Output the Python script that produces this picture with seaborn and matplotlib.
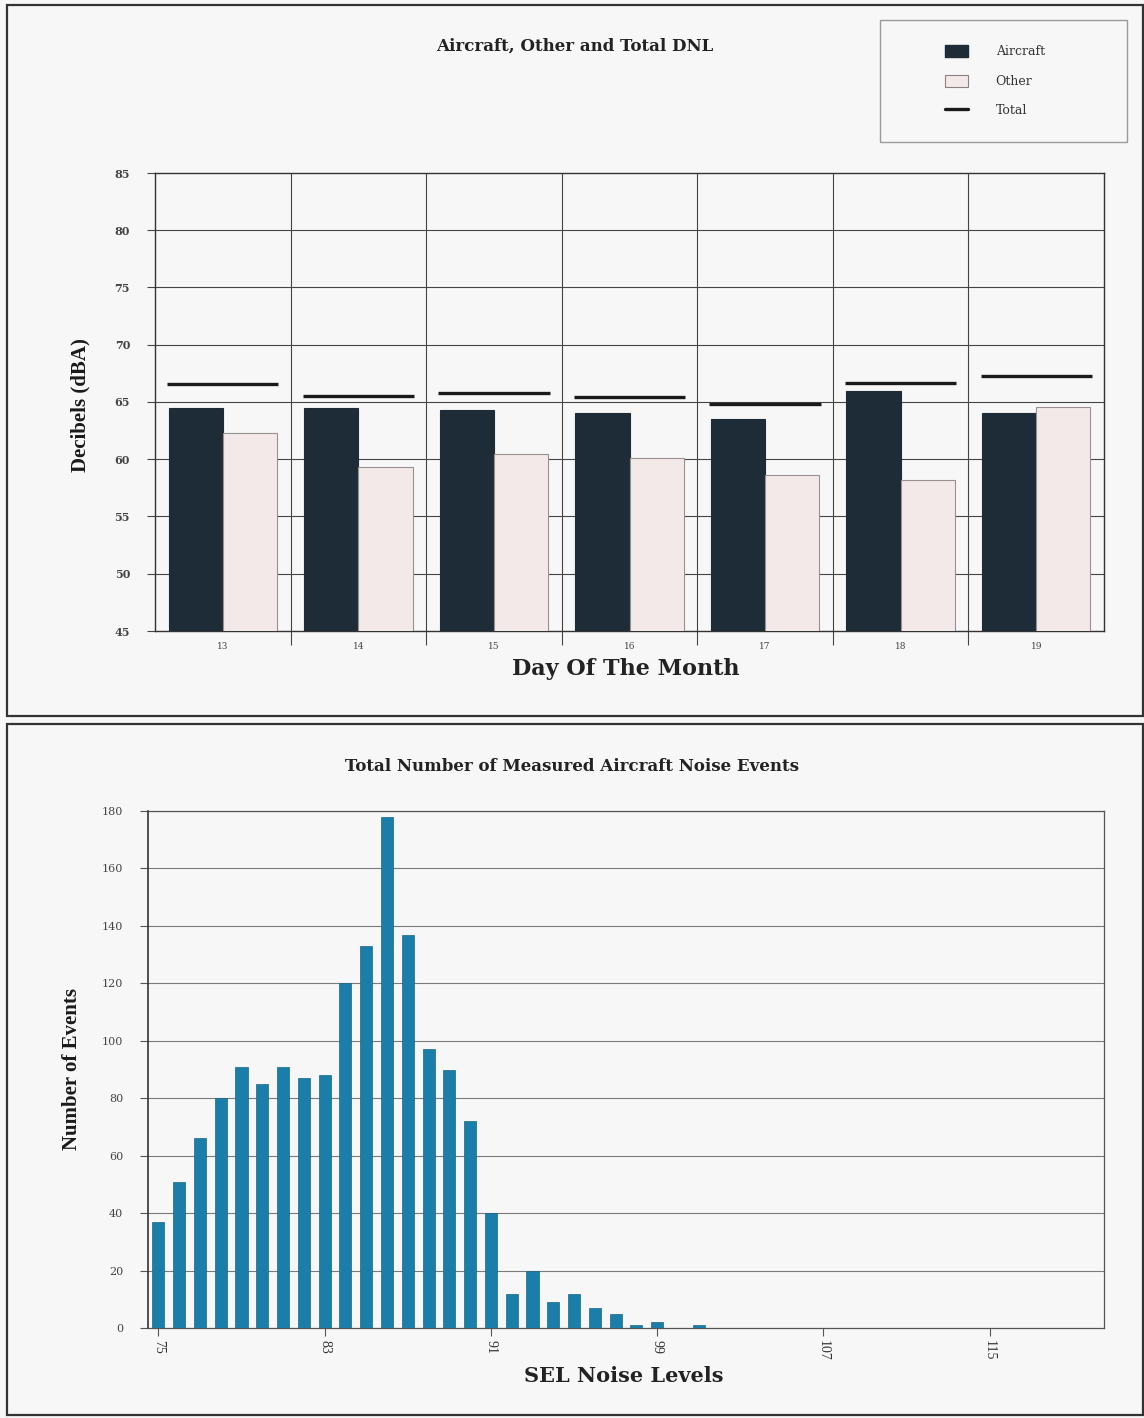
import numpy as np
import pandas as pd
import matplotlib
matplotlib.use("Agg")
import matplotlib.pyplot as plt
from matplotlib.patches import Rectangle, Patch
from matplotlib.lines import Line2D
import seaborn as sns

# ---- daily DNL values (dBA) ----
days = ["13", "14", "15", "16", "17", "18", "19"]
aircraft_dnl = [64.5, 64.5, 64.3, 64.0, 63.5, 66.0, 64.0]
other_dnl = [62.3, 59.3, 60.5, 60.1, 58.6, 58.2, 64.6]
total_dnl = [66.6, 65.5, 65.8, 65.4, 64.8, 66.7, 67.3]
series_names = ["Aircraft", "Other"]

# ---- aircraft noise event counts per SEL level ----
sel_levels = list(range(75, 121))
event_counts = [37, 51, 66, 80, 91, 85, 91, 87, 88, 120,
                133, 178, 137, 97, 90, 72, 40, 12, 20, 9,
                12, 7, 5, 1, 2, 0, 1, 0, 0, 0,
                0, 0, 0, 0, 0, 0, 0, 0, 0, 0,
                0, 0, 0, 0, 0, 0]
sel_tick_values = [75, 83, 91, 99, 107, 115]

W, H = 1144, 1418
BG = "#f7f7f7"
DARK = "#1e2c37"
LIGHT = "#f4e9e9"
BLUE = "#1b7ea8"
SERIF = ["DejaVu Serif"]
TIMES = ["Liberation Serif"]

sns.set_theme(style="white")
plt.rcParams["font.family"] = ["DejaVu Serif", "DejaVu Sans"]

fig = plt.figure(figsize=(W / 100, H / 100), dpi=100, facecolor=BG)


def fx(px):
    return px / W


def fy(py):
    return 1 - py / H


# panel frames
fig.patches.append(Rectangle((fx(7), fy(716)), fx(1136), (716 - 5) / H,
                             transform=fig.transFigure, fill=False,
                             edgecolor="#333333", linewidth=1.6, zorder=0))
fig.patches.append(Rectangle((fx(7), fy(1415)), fx(1136), (1415 - 724) / H,
                             transform=fig.transFigure, fill=False,
                             edgecolor="#333333", linewidth=1.6, zorder=0))

# ================= top: Aircraft / Other / Total DNL =================
ax1 = fig.add_axes([fx(155), fy(631), fx(1104 - 155), (631 - 173) / H])
ax1.set_facecolor(BG)

df = pd.DataFrame({
    "day": days * 2,
    "series": [series_names[0]] * len(days) + [series_names[1]] * len(days),
    "dnl": aircraft_dnl + other_dnl,
})
sns.barplot(data=df, x="day", y="dnl", hue="series", order=days,
            hue_order=series_names, palette=[DARK, LIGHT], width=0.8,
            saturation=1, edgecolor="#9a9090", linewidth=0.8,
            legend=False, ax=ax1, zorder=3)
for bar in ax1.containers[0]:
    bar.set_edgecolor(DARK)

xpos = np.arange(len(days))
ax1.hlines(total_dnl, xpos - 0.41, xpos + 0.41, colors="#1a1a1a",
           linewidth=2.4, zorder=4)

ax1.set_ylim(45, 85)
ax1.set_xlim(-0.5, len(days) - 0.5)
ax1.set_yticks(range(45, 86, 5))
ax1.set_yticklabels([str(v) for v in range(45, 86, 5)], fontsize=8,
                    fontweight="bold", color="#444444", family=SERIF)
ax1.set_xticks(xpos)
ax1.set_xticklabels(days, fontsize=6.5, color="#444444", family=SERIF)
ax1.tick_params(axis="x", length=0, pad=8)
ax1.tick_params(axis="y", length=6, width=0.8, color="#444444",
                direction="out", left=True, pad=12)
ax1.set_xticks(xpos[:-1] + 0.5, minor=True)
ax1.tick_params(axis="x", which="minor", length=10, width=0.8,
                color="#444444", direction="out", bottom=True)
for y in range(50, 85, 5):
    ax1.axhline(y, color="#444444", linewidth=0.8, zorder=1)
for b in xpos[:-1] + 0.5:
    ax1.axvline(b, color="#444444", linewidth=0.8, zorder=1)
for s in ax1.spines.values():
    s.set_visible(True)
    s.set_color("#333333")
    s.set_linewidth(1.0)
ax1.set_xlabel("")
ax1.set_ylabel("")

fig.text(fx(575), fy(46), "Aircraft, Other and Total DNL", ha="center",
         va="center", fontsize=12, fontweight="bold", color="#222222",
         family=SERIF)
fig.text(fx(626), fy(669), "Day Of The Month", ha="center", va="center",
         fontsize=16, fontweight="bold", color="#222222", family=SERIF)
fig.text(fx(80), fy(405), "Decibels (dBA)", ha="center", va="center",
         rotation=90, fontsize=15, fontweight="bold", color="#1a1a1a",
         family=TIMES)

# legend box and entries
fig.patches.append(Rectangle((fx(880), fy(142)), fx(247), 122 / H,
                             transform=fig.transFigure, fill=False,
                             edgecolor="#9a9a9a", linewidth=1.0))
handles = [Patch(facecolor=DARK, edgecolor=DARK),
           Patch(facecolor=LIGHT, edgecolor="#8a8080", linewidth=0.8),
           Line2D([0], [0], color="#1a1a1a", linewidth=2.4)]
fig.legend(handles, ["Aircraft", "Other", "Total"], loc="upper left",
           bbox_to_anchor=(fx(945), fy(45)), frameon=False, borderpad=0,
           borderaxespad=0, handlelength=1.85, handleheight=1.1,
           handletextpad=2.2, labelspacing=1.3,
           prop={"family": SERIF, "size": 9}, labelcolor="#333333")

# ================= bottom: noise event histogram =================
ax2 = fig.add_axes([fx(148), fy(1328), fx(1104 - 148), (1328 - 811) / H])
ax2.set_facecolor(BG)

ev = pd.DataFrame({"sel": sel_levels, "count": event_counts})
sns.barplot(data=ev, x="sel", y="count", native_scale=True, color=BLUE,
            saturation=1, width=0.58, edgecolor="#16658a", linewidth=0.5,
            ax=ax2, zorder=3)

ax2.set_xlim(74.5, 120.5)
ax2.set_ylim(0, 180)
ax2.set_yticks(range(0, 181, 20))
ax2.set_yticklabels([str(v) for v in range(0, 181, 20)], fontsize=8,
                    color="#444444", family=SERIF)
ax2.set_xticks(sel_tick_values)
ax2.set_xticklabels([str(v) for v in sel_tick_values], rotation=-90,
                    fontsize=10, color="#333333", family=TIMES)
ax2.tick_params(axis="x", length=6, width=0.8, color="#555555",
                direction="out", bottom=True, pad=3)
ax2.tick_params(axis="y", length=6, width=0.8, color="#555555",
                direction="out", left=True, pad=12)
for y in range(20, 181, 20):
    ax2.axhline(y, color="#7a7a7a", linewidth=0.8, zorder=1)
for s in ax2.spines.values():
    s.set_visible(True)
    s.set_color("#555555")
    s.set_linewidth(0.9)
ax2.spines["left"].set_color("#333333")
ax2.spines["left"].set_linewidth(1.2)
ax2.set_xlabel("")
ax2.set_ylabel("")

fig.text(fx(572), fy(766), "Total Number of Measured Aircraft Noise Events",
         ha="center", va="center", fontsize=12, fontweight="bold",
         color="#222222", family=SERIF)
fig.text(fx(624), fy(1376), "SEL Noise Levels", ha="center", va="center",
         fontsize=15, fontweight="bold", color="#222222", family=SERIF)
fig.text(fx(72), fy(1069), "Number of Events", ha="center", va="center",
         rotation=90, fontsize=15, fontweight="bold", color="#1a1a1a",
         family=TIMES)

fig.savefig("out.png", dpi=100, facecolor=BG)
